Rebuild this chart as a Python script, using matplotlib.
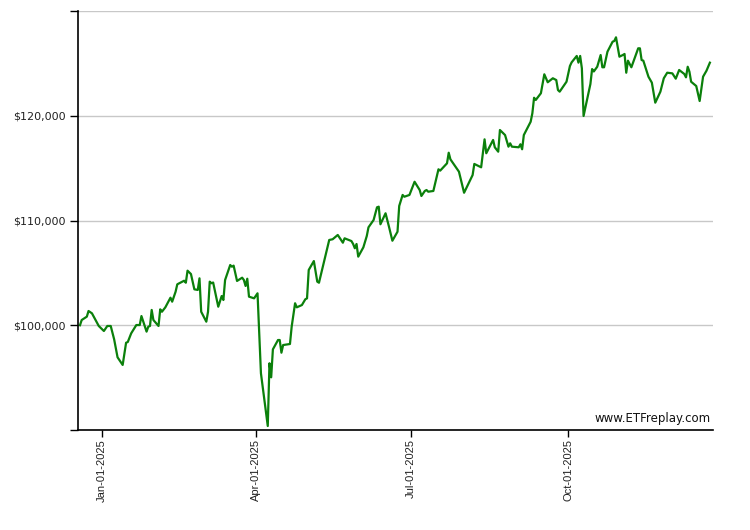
import matplotlib
matplotlib.use("Agg")
import matplotlib.pyplot as plt
import matplotlib.dates as mdates
from matplotlib.ticker import FixedLocator, FuncFormatter
import pandas as pd

# growth of $100,000
dates = [
    "2024-12-19", "2024-12-20", "2024-12-23", "2024-12-24", "2024-12-26", "2024-12-30",
    "2025-01-02", "2025-01-04", "2025-01-06", "2025-01-08", "2025-01-10", "2025-01-13",
    "2025-01-15", "2025-01-16", "2025-01-18", "2025-01-21", "2025-01-23", "2025-01-24",
    "2025-01-27", "2025-01-28", "2025-01-29", "2025-01-30", "2025-01-31", "2025-02-03",
    "2025-02-04", "2025-02-05", "2025-02-07", "2025-02-10", "2025-02-11", "2025-02-13",
    "2025-02-14", "2025-02-18", "2025-02-19", "2025-02-20", "2025-02-22", "2025-02-24",
    "2025-02-26", "2025-02-27", "2025-02-28", "2025-03-03", "2025-03-04", "2025-03-05",
    "2025-03-06", "2025-03-07", "2025-03-10", "2025-03-12", "2025-03-13", "2025-03-14",
    "2025-03-17", "2025-03-18", "2025-03-19", "2025-03-21", "2025-03-24", "2025-03-25",
    "2025-03-26", "2025-03-27", "2025-03-28", "2025-03-31", "2025-04-02", "2025-04-04",
    "2025-04-08", "2025-04-09", "2025-04-10", "2025-04-11", "2025-04-14", "2025-04-15",
    "2025-04-16", "2025-04-17", "2025-04-21", "2025-04-22", "2025-04-24", "2025-04-25",
    "2025-04-28", "2025-04-30", "2025-05-01", "2025-05-02", "2025-05-05", "2025-05-07",
    "2025-05-08", "2025-05-14", "2025-05-16", "2025-05-19", "2025-05-22", "2025-05-23",
    "2025-05-27", "2025-05-28", "2025-05-29", "2025-05-30", "2025-05-31", "2025-06-03",
    "2025-06-05", "2025-06-06", "2025-06-09", "2025-06-11", "2025-06-12", "2025-06-13",
    "2025-06-16", "2025-06-18", "2025-06-20", "2025-06-23", "2025-06-24", "2025-06-26",
    "2025-06-27", "2025-06-30", "2025-07-03", "2025-07-06", "2025-07-07", "2025-07-09",
    "2025-07-10", "2025-07-11", "2025-07-14", "2025-07-17", "2025-07-18", "2025-07-22",
    "2025-07-23", "2025-07-24", "2025-07-29", "2025-08-01", "2025-08-06", "2025-08-07",
    "2025-08-11", "2025-08-13", "2025-08-14", "2025-08-18", "2025-08-19", "2025-08-21",
    "2025-08-22", "2025-08-25", "2025-08-27", "2025-08-28", "2025-08-29", "2025-09-02",
    "2025-09-03", "2025-09-04", "2025-09-05", "2025-09-09", "2025-09-10", "2025-09-11",
    "2025-09-12", "2025-09-15", "2025-09-17", "2025-09-19", "2025-09-22", "2025-09-24",
    "2025-09-25", "2025-09-26", "2025-09-30", "2025-10-02", "2025-10-03", "2025-10-06",
    "2025-10-07", "2025-10-08", "2025-10-09", "2025-10-10", "2025-10-13", "2025-10-14",
    "2025-10-15", "2025-10-16", "2025-10-18", "2025-10-20", "2025-10-21", "2025-10-22",
    "2025-10-24", "2025-10-27", "2025-10-28", "2025-10-29", "2025-10-31", "2025-11-02",
    "2025-11-03", "2025-11-04", "2025-11-05", "2025-11-07", "2025-11-11", "2025-11-12",
    "2025-11-13", "2025-11-14", "2025-11-17", "2025-11-19", "2025-11-21", "2025-11-24",
    "2025-11-26", "2025-11-28", "2025-12-01", "2025-12-03", "2025-12-05", "2025-12-08",
    "2025-12-09", "2025-12-10", "2025-12-11", "2025-12-12", "2025-12-15", "2025-12-17",
    "2025-12-19", "2025-12-21", "2025-12-23",
]
values = [
    100000, 100500, 100820, 101360, 101140, 99930,
    99450, 99930, 99930, 98660, 96940, 96210,
    98330, 98400, 99230, 100020, 100020, 100880,
    99390, 99860, 99930, 101460, 100500, 99930,
    101520, 101290, 101710, 102630, 102250, 103200,
    103910, 104250, 104060, 105210, 104890, 103430,
    103370, 104480, 101290, 100340, 101290, 104160,
    104010, 104080, 101770, 102790, 102410, 104320,
    105750, 105590, 105690, 104230, 104540, 104320,
    103750, 104440, 102730, 102570, 103050, 95410,
    90380, 96370, 95030, 97700, 98590, 98590,
    97380, 98110, 98210, 99860, 102100, 101710,
    101930, 102480, 102570, 105280, 106130, 104160,
    104060, 108140, 108210, 108620, 107880, 108300,
    108040, 107760, 107350, 107760, 106550, 107440,
    108520, 109350, 110050, 111260, 111320, 109640,
    110690, 109410, 108070, 108930, 111390, 112440,
    112270, 112440, 113700, 112910, 112340, 112820,
    112910, 112750, 112820, 114890, 114760, 115460,
    116470, 115840, 114660, 112650, 114340, 115400,
    115080, 117750, 116420, 117690, 116990, 116570,
    118640, 118160, 117050, 117370, 117050, 116990,
    117280, 116800, 118160, 119430, 120240, 121720,
    121510, 122150, 123960, 123200, 123580, 123410,
    122460, 122300, 123250, 124750, 125100, 125710,
    125070, 125710, 124530, 119980, 122300, 123030,
    124460, 124230, 124680, 125800, 124630, 124630,
    126120, 127070, 127140, 127490, 125640, 125800,
    125900, 124110, 125260, 124630, 126440, 126440,
    125320, 125260, 123730, 123160, 121250, 122300,
    123580, 124110, 124050, 123540, 124370, 123990,
    123670, 124680, 124210, 123250, 122840, 121410,
    123730, 124300, 125070,
]

tick_dates = ["2025-01-01", "2025-04-01", "2025-07-01", "2025-10-01"]
y_ticks = [90000, 100000, 110000, 120000, 130000]
y_labeled = [100000, 110000, 120000]

x = pd.to_datetime(dates)

fig = plt.figure(figsize=(7.5, 5.3), dpi=100)
ax = fig.add_axes([0.104, 0.1887, 0.8467, 0.7905])

ax.plot(x, values, color="#0b800b", linewidth=1.6, solid_joinstyle="round")

ax.set_xlim(pd.Timestamp("2024-12-17 20:00"), pd.Timestamp("2025-12-24 20:00"))
ax.set_ylim(90000, 130000)

ax.yaxis.set_major_locator(FixedLocator(y_ticks))
ax.yaxis.set_major_formatter(FuncFormatter(
    lambda v, p: "${:,.0f}".format(v) if int(round(v)) in y_labeled else ""))
ax.grid(axis="y", color="#c8c8c8", linewidth=1.0)
ax.set_axisbelow(True)

ax.set_xticks(pd.to_datetime(tick_dates))
ax.xaxis.set_major_formatter(mdates.DateFormatter("%b-%d-%Y"))
for lab in ax.get_xticklabels():
    lab.set_rotation(90)
    lab.set_fontfamily("Liberation Sans")
    lab.set_fontsize(8)
    lab.set_color("#222222")
for lab in ax.get_yticklabels():
    lab.set_fontfamily("DejaVu Sans")
    lab.set_fontsize(8)
    lab.set_color("#222222")

ax.tick_params(axis="both", direction="out", length=5, width=1, color="black")
ax.tick_params(axis="y", length=6, pad=3)
ax.tick_params(axis="x", pad=1.5)

for side in ["top", "right"]:
    ax.spines[side].set_visible(False)
for side in ["left", "bottom"]:
    ax.spines[side].set_color("black")
    ax.spines[side].set_linewidth(1.2)

ax.text(0.997, 0.013, "www.ETFreplay.com", transform=ax.transAxes, ha="right",
        va="bottom", fontsize=8.5, family="DejaVu Sans", color="#111111")

fig.savefig("out.png", dpi=100)
